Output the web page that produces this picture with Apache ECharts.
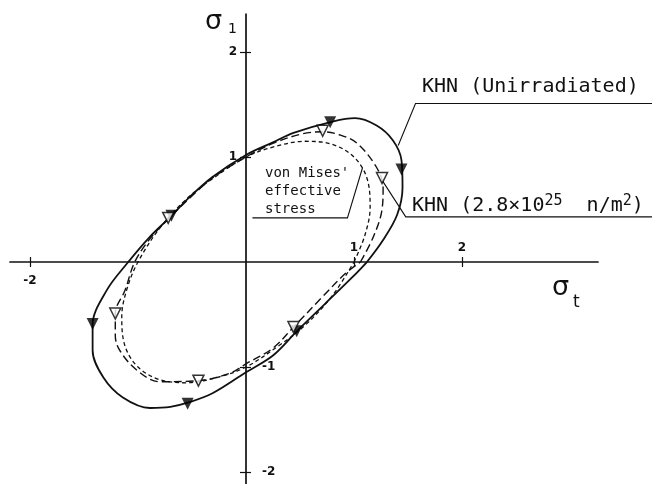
<!DOCTYPE html>
<html>
<head>
<meta charset="utf-8">
<script src="https://cdn.jsdelivr.net/npm/echarts@6/dist/echarts.min.js"></script>
<style>
	html, body { margin: 0; padding: 0; background: #fff; }
	#chart { width: 652px; height: 484px; }
</style>
</head>
<body>
<div id="chart"></div>
<script>
// [sigma_t, sigma_1] pairs
const khnUnirradiated = [
	[1.12, 0.00], [1.27, 0.21], [1.40, 0.45], [1.45, 0.71], [1.44, 0.97], [1.36, 1.16],
	[1.21, 1.30], [1.01, 1.37], [0.81, 1.34], [0.44, 1.23], [0.25, 1.14], [0.00, 1.02],
	[-0.31, 0.81], [-0.52, 0.62], [-0.70, 0.43], [-0.89, 0.24], [-1.09, 0.00], [-1.29, -0.27],
	[-1.42, -0.60], [-1.42, -0.84], [-1.32, -1.10], [-1.14, -1.29], [-0.89, -1.39], [-0.70, -1.38],
	[-0.54, -1.34], [-0.31, -1.25], [0.00, -1.05], [0.25, -0.89], [0.47, -0.66], [0.73, -0.40],
	[0.99, -0.14], [1.12, 0.00],
]
const khnIrradiated = [
	[1.06, 0.00], [1.18, 0.24], [1.26, 0.50], [1.27, 0.71], [1.21, 0.90], [1.03, 1.13],
	[0.87, 1.21], [0.71, 1.24], [0.52, 1.22], [0.25, 1.13], [0.00, 1.00], [-0.31, 0.80],
	[-0.52, 0.61], [-0.71, 0.42], [-0.89, 0.22], [-1.03, 0.00], [-1.12, -0.27], [-1.21, -0.49],
	[-1.21, -0.70], [-1.17, -0.84], [-1.01, -1.03], [-0.80, -1.14], [-0.44, -1.13], [-0.15, -1.06],
	[0.00, -0.97], [0.25, -0.82], [0.44, -0.62], [0.71, -0.33], [0.92, -0.11], [1.06, 0.00],
]
const vonMises = [
	[1.00, 0.00], [1.10, 0.25], [1.15, 0.52], [1.12, 0.80], [1.00, 1.00], [0.80, 1.12],
	[0.55, 1.15], [0.27, 1.10], [0.00, 1.00], [-0.30, 0.80], [-0.55, 0.60], [-0.80, 0.32],
	[-1.00, 0.00], [-1.10, -0.25], [-1.15, -0.52], [-1.12, -0.80], [-1.00, -1.00], [-0.80, -1.12],
	[-0.55, -1.15], [-0.27, -1.10], [0.00, -1.00], [0.30, -0.80], [0.55, -0.60], [0.80, -0.32],
	[1.00, 0.00],
]
const unirradiatedPoints = [[0.78, 1.33], [1.44, 0.88], [0.47, -0.66], [-0.54, -1.35], [-1.42, -0.59], [-0.69, 0.44]]
const irradiatedPoints = [[0.71, 1.25], [1.26, 0.80], [0.44, -0.62], [-0.44, -1.13], [-1.21, -0.49], [-0.72, 0.42]]

// leader lines of the labels, in data units
const leaderUnirradiated = [[1.41, 1.11], [1.57, 1.51], [3.76, 1.51]]
const leaderIrradiated = [[1.26, 0.78], [1.48, 0.43], [3.76, 0.43]]
const leaderVonMises = [[1.08, 0.90], [0.94, 0.42], [0.06, 0.42]]

const xTicks = [-2, 1, 2]
const xLabelsBelow = [-2]
const xLabelsAbove = [1, 2]
const yTicks = [-2, -1, 1, 2]
const yLabelsLeft = [1, 2]
const yLabelsRight = [-2, -1]

const xMin = -2.185, xMax = 3.26
const yMin = -2.114, yMax = 2.362

const ink = "#111"
const tickFont = { fontFamily: "DejaVu Sans", fontWeight: "bold", fontSize: 12, color: ink }

// grid box, and where the two axes cross (value 0)
const gridLeft = 10, gridRight = 54, gridTop = 14, gridBottom = 0
const plotW = 652 - gridLeft - gridRight
const plotH = 484 - gridTop - gridBottom
const yAxisShift = -Math.round((-xMin / (xMax - xMin)) * plotW)
const xAxisShift = -Math.round((-yMin / (yMax - yMin)) * plotH)

const chart = echarts.init(document.getElementById("chart"))

const baseX = {
	type: "value",
	min: xMin,
	max: xMax,
	position: "bottom",
	offset: xAxisShift,
	splitLine: { show: false },
}
const baseY = {
	type: "value",
	min: yMin,
	max: yMax,
	position: "left",
	offset: yAxisShift,
	splitLine: { show: false },
}

const options = {
	animation: false,
	backgroundColor: "#fff",
	grid: {
		left: gridLeft, right: gridRight, top: gridTop, bottom: gridBottom,
		containLabel: false, outerBoundsMode: "none",
	},
	xAxis: [
		{
			...baseX,
			axisLine: { onZero: false, lineStyle: { color: ink, width: 1.7 } },
			axisTick: { customValues: xTicks, length: 5, lineStyle: { color: ink, width: 1.2 } },
			axisLabel: { customValues: xLabelsBelow, margin: 13, ...tickFont },
		},
		{
			...baseX,
			axisLine: { show: false, onZero: false },
			axisTick: { customValues: xTicks, inside: true, length: 5, lineStyle: { color: ink, width: 1.2 } },
			axisLabel: { customValues: xLabelsAbove, inside: true, margin: 8, ...tickFont },
		},
	],
	yAxis: [
		{
			...baseY,
			axisLine: { onZero: false, lineStyle: { color: ink, width: 1.7 } },
			axisTick: { customValues: yTicks, length: 6, lineStyle: { color: ink, width: 1.2 } },
			axisLabel: { customValues: yLabelsLeft, margin: 9, ...tickFont },
		},
		{
			...baseY,
			axisLine: { show: false, onZero: false },
			axisTick: { customValues: yTicks, inside: true, length: 5, lineStyle: { color: ink, width: 1.2 } },
			axisLabel: { customValues: yLabelsRight, inside: true, margin: 16, ...tickFont },
		},
	],
	graphic: [
		{ type: "text", x: 205, y: 8, style: { text: "σ", font: "27px 'DejaVu Sans'", fill: ink } },
		{ type: "text", x: 228, y: 22, style: { text: "1", font: "14px 'DejaVu Sans'", fill: ink } },
		{ type: "text", x: 552, y: 274, style: { text: "σ", font: "27px 'DejaVu Sans'", fill: ink } },
		{ type: "text", x: 573, y: 294, style: { text: "t", font: "17px 'DejaVu Sans'", fill: ink } },
		{
			type: "text", x: 422, y: 77,
			style: { text: "KHN (Unirradiated)", font: "20px 'DejaVu Sans Mono'", fill: ink },
		},
		{
			type: "text", x: 412, y: 194,
			style: {
				text: "{b|KHN (2.8×10}{s|25}{b|  n/m}{s|2}{b|)}",
				rich: {
					b: { fontFamily: "DejaVu Sans Mono", fontSize: 20, lineHeight: 22, verticalAlign: "bottom", fill: ink },
					s: { fontFamily: "DejaVu Sans Mono", fontSize: 15, lineHeight: 14, verticalAlign: "top", fill: ink },
				},
			},
		},
		{
			type: "text", x: 265, y: 164,
			style: { text: "von Mises'\neffective\nstress", font: "14px 'DejaVu Sans Mono'", lineHeight: 18, fill: ink },
		},
	],
	series: [
		{
			name: "KHN (Unirradiated)",
			type: "line",
			data: khnUnirradiated,
			smooth: 0.35,
			symbol: "none",
			lineStyle: { color: ink, width: 1.8 },
			z: 3,
		},
		{
			name: "KHN (2.8×10²⁵ n/m²)",
			type: "line",
			data: khnIrradiated,
			smooth: 0.35,
			symbol: "none",
			lineStyle: { color: ink, width: 1.4, type: [8, 4] },
			z: 3,
		},
		{
			name: "von Mises' effective stress",
			type: "line",
			data: vonMises,
			smooth: 0.35,
			symbol: "none",
			lineStyle: { color: ink, width: 1.3, type: [4, 3] },
			z: 3,
		},
		{
			type: "scatter",
			data: unirradiatedPoints,
			symbol: "triangle",
			symbolRotate: 180,
			symbolSize: 12,
			itemStyle: { color: "#000" },
			z: 4,
		},
		{
			type: "scatter",
			data: irradiatedPoints,
			symbol: "triangle",
			symbolRotate: 180,
			symbolSize: 11,
			itemStyle: { color: "#fff", borderColor: "#000", borderWidth: 1.5 },
			z: 5,
		},
	],
}

chart.setOption(options)

// leader lines run past the plot box, so draw them as polylines through the grid's own scale
const toPx = (pts) => pts.map((p) => chart.convertToPixel({ gridIndex: 0 }, p))
const leaders = [leaderUnirradiated, leaderIrradiated, leaderVonMises].map((pts, i) => ({
	type: "polyline",
	id: "leader" + i,
	silent: true,
	shape: { points: toPx(pts) },
	style: { stroke: ink, lineWidth: 1.1, fill: null },
	z: 1,
}))
chart.setOption({ graphic: leaders })

window.addEventListener("resize", () => chart.resize())
</script>
</body>
</html>
